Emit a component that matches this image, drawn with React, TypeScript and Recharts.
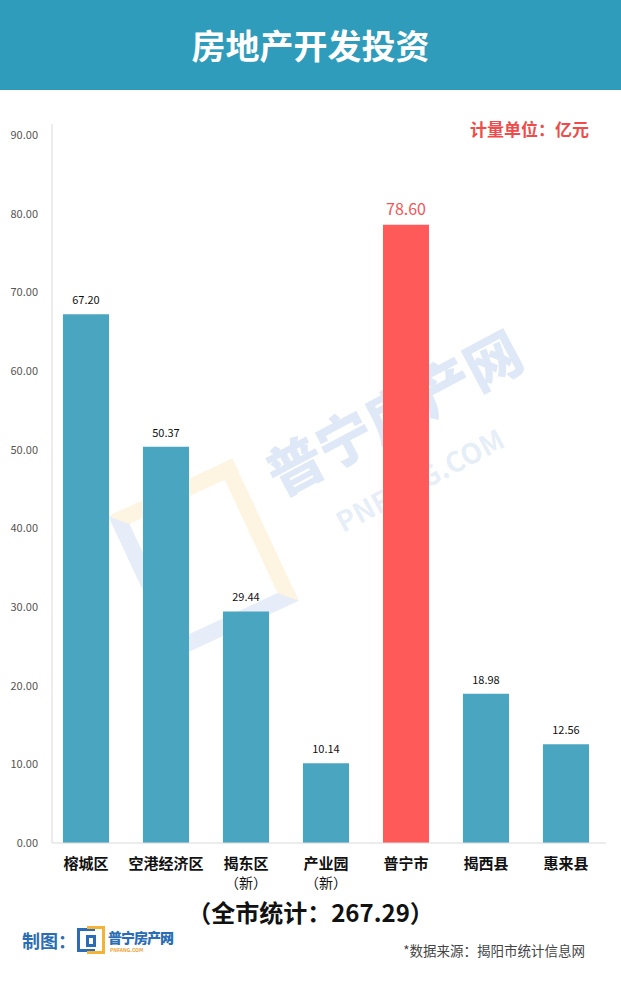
import React from 'react';
import { BarChart, Bar, XAxis, YAxis, Cell, LabelList } from 'recharts';

const categories = ['榕城区', '空港经济区', '揭东区', '产业园', '普宁市', '揭西县', '惠来县'];
const subLabels = ['', '', '（新）', '（新）', '', '', ''];
const values = [67.2, 50.37, 29.44, 10.14, 78.6, 18.98, 12.56];
const highlightCategory = '普宁市';
const yTicks = [0, 10, 20, 30, 40, 50, 60, 70, 80, 90];
const totalText = '（全市统计：267.29）';
const titleText = '房地产开发投资';
const unitText = '计量单位：亿元';
const sourceText = '*数据来源：揭阳市统计信息网';

const data = categories.map((c, i) => ({ name: c, sub: subLabels[i], value: values[i] }));

const FONT = '"Noto Sans CJK SC", "Noto Sans", sans-serif';
const BLUE = '#4aa6c0';
const RED = '#ff5a5a';

const XTick = (props: any) => {
  const { x, y, payload, index } = props;
  const sub = subLabels[index] || (data.find((d) => d.name === payload.value)?.sub ?? '');
  return (
    <g>
      <text x={x} y={y + 26} textAnchor="middle" fontSize={15} fontWeight={700} fill="#111" fontFamily={FONT}>
        {payload.value}
      </text>
      {sub ? (
        <text x={x} y={y + 45} textAnchor="middle" fontSize={14} fill="#111" fontFamily={FONT}>
          {sub}
        </text>
      ) : null}
    </g>
  );
};

const BarLabel = (props: any) => {
  const { x, y, width, value, index } = props;
  const isHi = categories[index] === highlightCategory;
  return (
    <text
      x={x + width / 2}
      y={y - 10}
      textAnchor="middle"
      fontSize={isHi ? 16 : 11}
      fill={isHi ? '#f25555' : '#111'}
      fontFamily={FONT}
    >
      {Number(value).toFixed(2)}
    </text>
  );
};

export default function App() {
  return (
    <div style={{ position: 'absolute', top: 0, left: 0, width: 621, height: 983, background: '#fff', overflow: 'hidden', fontFamily: FONT }}>
      <div
        style={{
          position: 'absolute', top: 0, left: 0, width: 621, height: 90, background: '#2e9cba',
          color: '#fff', fontSize: 34, fontWeight: 700, textAlign: 'center', lineHeight: '90px', letterSpacing: 0,
        }}
      >
        {titleText}
      </div>

      {/* faint watermark */}
      <div
        style={{
          position: 'absolute', left: 250, top: 440, transform: 'rotate(-28deg)', transformOrigin: 'left top',
          color: 'rgba(60,120,200,0.17)', fontSize: 56, fontWeight: 900, whiteSpace: 'nowrap',
        }}
      >
        普宁房产网
      </div>
      <div
        style={{
          position: 'absolute', left: 328, top: 505, transform: 'rotate(-28deg)', transformOrigin: 'left top',
          color: 'rgba(60,120,200,0.14)', fontSize: 28, fontWeight: 700, whiteSpace: 'nowrap',
        }}
      >
        PNFANG.COM
      </div>
      <div
        style={{
          position: 'absolute', left: 135, top: 480, width: 105, height: 125, transform: 'rotate(-25deg)',
          border: '16px solid rgba(60,120,200,0.13)', borderRight: '16px solid rgba(245,190,60,0.15)', borderTop: '16px solid rgba(245,190,60,0.15)',
        }}
      />

      <div style={{ position: 'absolute', right: 32, top: 116, color: '#ef4b4b', fontSize: 17, fontWeight: 700 }}>{unitText}</div>

      <div style={{ position: 'absolute', top: 0, left: 0 }}>
        <BarChart width={621} height={983} data={data} margin={{ top: 124, right: 15, bottom: 90, left: 0 }}>
          <YAxis
            type="number"
            domain={[0, 91.4]}
            ticks={yTicks}
            width={52}
            tickLine={false}
            tickSize={0}
            tickMargin={14}
            axisLine={{ stroke: '#d9d9d9' }}
            tickFormatter={(v: number) => v.toFixed(2)}
            tick={{ fontSize: 11, fill: '#555', fontFamily: FONT }}
            interval={0}
          />
          <XAxis
            dataKey="name"
            height={50}
            tickLine={false}
            tickSize={0}
            tickMargin={0}
            axisLine={{ stroke: '#d9d9d9' }}
            padding={{ left: -6, right: 0 }}
            interval={0}
            tick={<XTick />}
          />
          <Bar dataKey="value" barSize={46} isAnimationActive={false}>
            {data.map((d) => (
              <Cell key={d.name} fill={d.name === highlightCategory ? RED : BLUE} />
            ))}
            <LabelList dataKey="value" content={<BarLabel />} />
          </Bar>
        </BarChart>
      </div>

      <div style={{ position: 'absolute', left: 0, width: 621, top: 894, textAlign: 'center', fontSize: 24, fontWeight: 700, color: '#111' }}>
        {totalText}
      </div>

      <div style={{ position: 'absolute', left: 22, top: 927, color: '#2b6db4', fontSize: 18, fontWeight: 700 }}>制图：</div>
      <div style={{ position: 'absolute', left: 77, top: 926, width: 28, height: 28 }}>
        <div style={{ position: 'absolute', left: 0, top: 2, width: 18, height: 24, border: '3px solid #2b6db4', borderRight: 'none', boxSizing: 'border-box' }} />
        <div style={{ position: 'absolute', left: 10, top: 0, width: 18, height: 28, border: '3px solid #f5b335', borderLeft: 'none', boxSizing: 'border-box' }} />
        <div style={{ position: 'absolute', left: 9, top: 9, width: 10, height: 12, border: '3px solid #2b6db4', boxSizing: 'border-box' }} />
      </div>
      <div style={{ position: 'absolute', left: 108, top: 927, color: '#2b6db4', fontSize: 14, fontWeight: 900, letterSpacing: -1 }}>普宁房产网</div>
      <div style={{ position: 'absolute', left: 110, top: 946, color: '#f0a030', fontSize: 5, fontWeight: 700 }}>PNFANG.COM</div>

      <div style={{ position: 'absolute', right: 36, top: 940, color: '#444', fontSize: 13.5 }}>{sourceText}</div>
    </div>
  );
}
